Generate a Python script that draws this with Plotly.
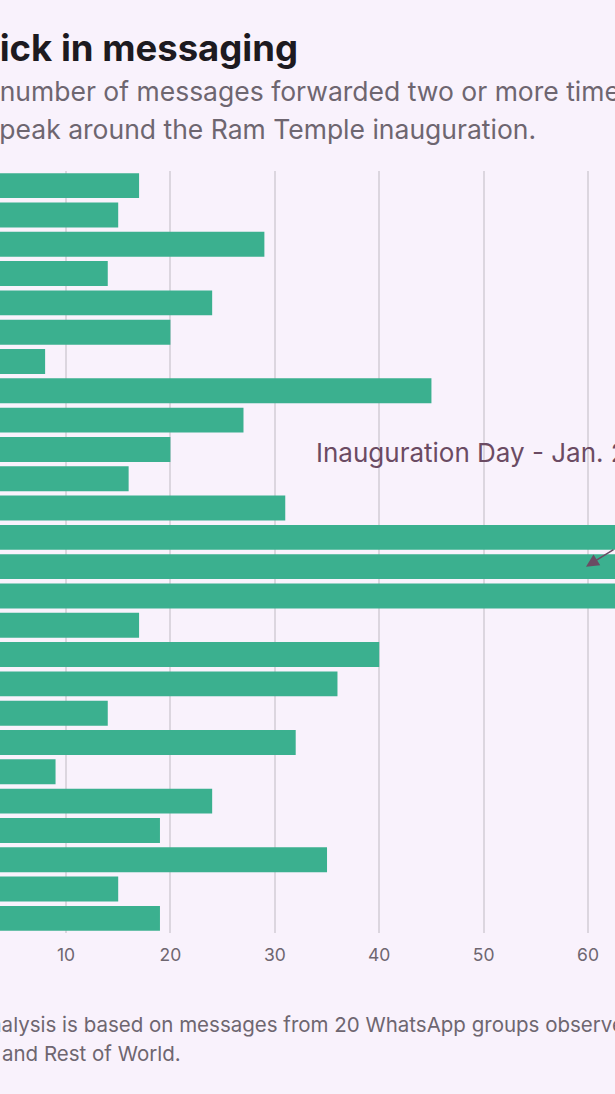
import plotly.graph_objects as go

# daily count of messages forwarded 2+ times, top to bottom
days = ["Jan 9", "Jan 10", "Jan 11", "Jan 12", "Jan 13", "Jan 14", "Jan 15",
        "Jan 16", "Jan 17", "Jan 18", "Jan 19", "Jan 20", "Jan 21", "Jan 22",
        "Jan 23", "Jan 24", "Jan 25", "Jan 26", "Jan 27", "Jan 28", "Jan 29",
        "Jan 30", "Jan 31", "Feb 1", "Feb 2", "Feb 3"]
messages = [17, 15, 29, 14, 24, 20, 8, 45, 27, 20, 16, 31, 72, 98, 76,
            17, 40, 36, 14, 32, 9, 24, 19, 35, 15, 19]
x_ticks = [10, 20, 30, 40, 50, 60]

bg = "#f9f2fc"
W, H = 615, 1094
top, bottom = 170.5, 933


def py(p):
    # pixel row -> paper y
    return (bottom - p) / (bottom - top)


fig = go.Figure(go.Bar(
    x=messages, y=days, orientation="h",
    marker=dict(color="#3bb08f", line=dict(width=0)),
    hoverinfo="x+y",
))

fig.update_layout(
    width=W, height=H,
    margin=dict(l=0, r=0, t=top, b=H - bottom),
    paper_bgcolor=bg, plot_bgcolor=bg,
    bargap=0.15,
    showlegend=False,
    font=dict(family="Inter, sans-serif", color="#6e6670"),
)
fig.update_xaxes(
    range=[3.68, 62.58], tickvals=x_ticks,
    showgrid=True, gridcolor="#dcd6df", gridwidth=1.5,
    zeroline=False, showline=False, ticks="",
    tickfont=dict(size=17.5, color="#6e6670"), ticklabelstandoff=9,
)
fig.update_yaxes(autorange="reversed", showticklabels=False, showgrid=False, ticks="")

txt = dict(xref="paper", yref="paper", showarrow=False, yanchor="middle")
fig.add_annotation(text="<b>An uptick in messaging</b>", x=300 / W, y=py(47),
                   xanchor="right", font=dict(size=36.5, color="#1d1a20"), **txt)
fig.add_annotation(text="The number of messages forwarded two or more times",
                   x=-58.5 / W, y=py(90), xanchor="left",
                   font=dict(size=26.5, color="#6e6670"), **txt)
fig.add_annotation(text="saw a peak around the Ram Temple inauguration.",
                   x=538 / W, y=py(128), xanchor="right",
                   font=dict(size=26.5, color="#6e6670"), **txt)
fig.add_annotation(text="analysis is based on messages from 20 WhatsApp groups observed by",
                   x=-24 / W, y=py(1025), xanchor="left",
                   font=dict(size=20.5, color="#6e6670"), **txt)
fig.add_annotation(text="and Rest of World.", x=0, y=py(1054), xanchor="left",
                   font=dict(size=20.5, color="#6e6670"), **txt)

# inauguration callout
fig.add_annotation(text="Inauguration Day - Jan. 22", x=314 / W, y=py(452),
                   xanchor="left", font=dict(size=26, color="#6b4b63"), **txt)
fig.add_annotation(x=59.8, y=days[13], xref="x", yref="y", text="",
                   showarrow=True, ax=45, ay=-18, arrowhead=2, arrowsize=1.6,
                   arrowwidth=1.6, arrowcolor="#6b4b63")

fig.write_html("out.html", config={"displayModeBar": False}, post_script=(
    "document.body.style.margin='0';"
    "document.body.style.background='" + bg + "';"
))
